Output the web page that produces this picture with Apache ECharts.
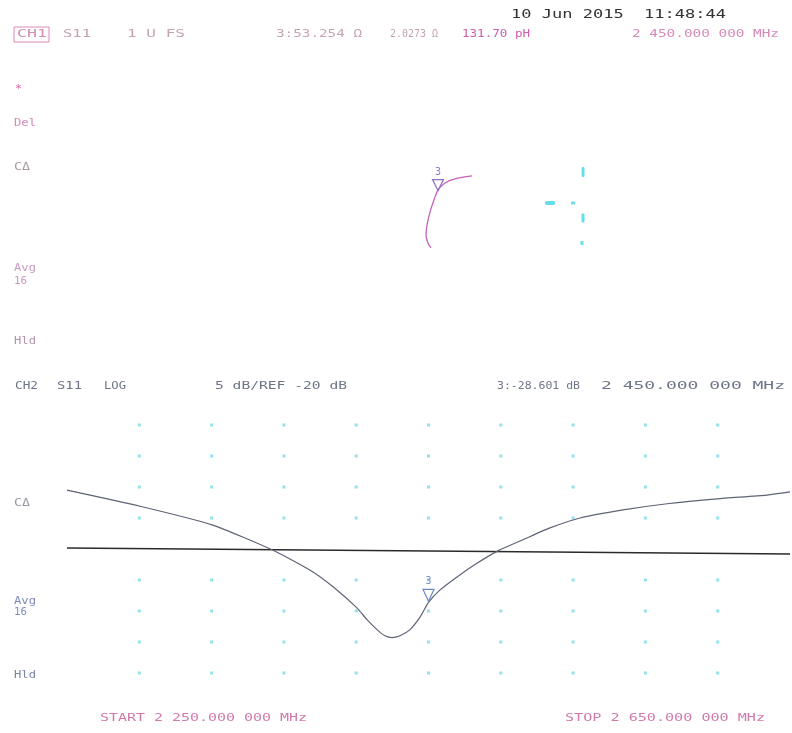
<!DOCTYPE html>
<html>
<head>
<meta charset="utf-8">
<script src="https://cdn.jsdelivr.net/npm/echarts@6/dist/echarts.min.js"></script>
<style>html,body{margin:0;padding:0;background:#fff}#c{width:792px;height:733px}</style>
</head>
<body>
<div id="c"></div>
<script>
// ---- CH2: S11 log magnitude (frequency MHz, dB) ----
const ch2Freq = [2250, 2290.4, 2330.2, 2364.0, 2386.1, 2397.2, 2410.4, 2416.0, 2421.5, 2425.9, 2429.8, 2434.2, 2439.8, 2445.3, 2450.0, 2456.4, 2465.8, 2476.8, 2488.4, 2502.3, 2517.2, 2533.8, 2557.6, 2582.0, 2609.6, 2637.3, 2650];
const ch2dB   = [-10.5, -13.1, -16.1, -20.2, -23.7, -26.1, -29.5, -31.4, -33.0, -34.0, -34.3, -34.0, -33.0, -31.0, -28.6, -26.6, -24.5, -22.3, -20.3, -18.5, -16.6, -15.0, -13.7, -12.7, -11.9, -11.3, -10.8];
const refFreq = [2250, 2650];
const refdB   = [-19.85, -20.8];
const marker3 = {freq: 2450, dB: -28.601};
const gridFreqTicks = [2290, 2330, 2370, 2410, 2450, 2490, 2530, 2570, 2610];
const gridDbTicks = [0, -5, -10, -15, -25, -30, -35, -40];

// ---- CH1: Smith chart trace (reflection coefficient real, imag) ----
const ch1Re = [0.267, 0.153, 0.087, 0.04, 0.013, -0.013, -0.033, -0.04, -0.027, -0.007];
const ch1Im = [0.127, 0.107, 0.08, 0.033, -0.033, -0.113, -0.2, -0.267, -0.32, -0.353];
const ch1Marker = [0.04, 0.033];
const smithMarksRe = [0.787, 0.94, 1.007, 1.007, 1.0];
const smithMarksIm = [-0.053, -0.053, 0.153, -0.153, -0.32];

const zip = (a, b) => a.map((v, i) => [v, b[i]]);
const gridDots = [];
gridFreqTicks.forEach(f => gridDbTicks.forEach(d => gridDots.push([f, d])));

const MONO = '"DejaVu Sans Mono", "Liberation Mono", monospace';
function T(str, x, y, w, color, fs, weight) {
  fs = fs || 11;
  const natural = str.length * 0.602 * fs;
  return {
    type: 'text', x: x, y: y, scaleX: w / natural, silent: true,
    style: { text: str, fill: color, font: (weight || 'normal') + ' ' + fs + 'px ' + MONO,
             textVerticalAlign: 'middle', verticalAlign: 'middle' }
  };
}
const pink = '#d58ab8', pinkDark = '#cc5fae', grayPink = '#c4a3b8', grayBlue = '#6f7588';

const texts = [
  T('10 Jun 2015  11:48:44', 511, 15, 215, '#333333', 13),
  T('CH1', 17, 34, 30, pink),
  T('S11', 63, 34, 28, grayPink),
  T('1 U FS', 127, 34, 58, grayPink),
  T('3:53.254 Ω', 276, 34, 86, grayPink),
  T('2.0273 Ω', 390, 34, 48, grayPink),
  T('131.70 pH', 462, 34, 68, pinkDark),
  T('2 450.000 000 MHz', 632, 34, 147, pink),
  T('*', 15, 89, 7, '#e0609a'),
  T('Del', 14, 123, 22, pink),
  T('CΔ', 14, 167, 16, '#a89aa4'),
  T('Avg', 14, 268, 22, '#c99cbf'),
  T('16', 14, 281, 13, '#c99cbf'),
  T('Hld', 14, 341, 22, '#b395ab'),
  T('CH2', 15, 386, 23, grayBlue),
  T('S11', 57, 386, 25, grayBlue),
  T('LOG', 104, 386, 22, grayBlue),
  T('5 dB/REF -20 dB', 215, 386, 132, grayBlue),
  T('3:-28.601 dB', 497, 386, 83, grayBlue),
  T('2 450.000 000 MHz', 601, 386, 184, grayBlue),
  T('CΔ', 14, 503, 16, '#9a9aa2'),
  T('Avg', 14, 601, 22, '#7f8cc0'),
  T('16', 14, 612, 13, '#7f8cc0'),
  T('Hld', 14, 675, 22, '#7a84a8'),
  T('START 2 250.000 000 MHz', 100, 718, 207, '#d07aac'),
  T('STOP 2 650.000 000 MHz', 565, 718, 200, '#d07aac'),
  { type: 'rect', silent: true, shape: { x: 14, y: 27, width: 35, height: 15 },
    style: { fill: 'none', stroke: pink, lineWidth: 1 } }
];

const chart = echarts.init(document.getElementById('c'), null, { renderer: 'canvas' });
chart.setOption({
  backgroundColor: '#ffffff',
  animation: false,
  grid: [
    { left: 67, top: 394, width: 723, height: 310 },
    { left: 252, top: 15, width: 360, height: 360 }
  ],
  xAxis: [
    { gridIndex: 0, type: 'value', min: 2250, max: 2650, show: false, splitLine: { show: false } },
    { gridIndex: 1, type: 'value', min: -1.2, max: 1.2, show: false, splitLine: { show: false } }
  ],
  yAxis: [
    { gridIndex: 0, type: 'value', min: -45, max: 5, show: false, splitLine: { show: false } },
    { gridIndex: 1, type: 'value', min: -1.2, max: 1.2, show: false, splitLine: { show: false } }
  ],
  graphic: texts,
  series: [
    { type: 'scatter', xAxisIndex: 0, yAxisIndex: 0, data: gridDots, symbol: 'rect', symbolSize: 3,
      itemStyle: { color: '#79dbe6' }, silent: true },
    { type: 'line', xAxisIndex: 0, yAxisIndex: 0, data: zip(refFreq, refdB), showSymbol: false,
      lineStyle: { color: '#2a2a2a', width: 1.6 }, silent: true },
    { type: 'line', xAxisIndex: 0, yAxisIndex: 0, data: zip(ch2Freq, ch2dB), showSymbol: false,
      smooth: 0.2,
      lineStyle: { color: '#5e6476', width: 1.2 }, silent: true,
      markPoint: {
        silent: true,
        data: [{ coord: [marker3.freq, marker3.dB], value: '3' }],
        symbol: 'triangle', symbolRotate: 180, symbolSize: [11, 12], symbolOffset: [0, -7],
        itemStyle: { color: 'rgba(0,0,0,0)', borderColor: '#6f86c8', borderWidth: 1.2 },
        label: { show: true, position: 'top', distance: 2, formatter: '3', color: '#7b8fd0',
                 fontSize: 10, fontFamily: MONO }
      }
    },
    { type: 'line', xAxisIndex: 1, yAxisIndex: 1, data: zip(ch1Re, ch1Im), showSymbol: false, smooth: 0.3,
      lineStyle: { color: '#c860bc', width: 1.3 }, silent: true,
      markPoint: {
        silent: true,
        data: [{ coord: ch1Marker, value: '3' }],
        symbol: 'triangle', symbolRotate: 180, symbolSize: [11, 11], symbolOffset: [0, -5],
        itemStyle: { color: 'rgba(0,0,0,0)', borderColor: '#8a70c4', borderWidth: 1.2 },
        label: { show: true, position: 'top', distance: 2, formatter: '3', color: '#9a78c8',
                 fontSize: 10, fontFamily: MONO }
      }
    },
    { type: 'scatter', xAxisIndex: 1, yAxisIndex: 1, data: zip(smithMarksRe, smithMarksIm),
      symbol: 'roundRect', silent: true,
      symbolSize: (v, p) => [[10, 4], [4, 3], [3, 10], [3, 9], [3, 4]][p.dataIndex],
      itemStyle: { color: '#3cd6e6' } }
  ]
});
</script>
</body>
</html>
